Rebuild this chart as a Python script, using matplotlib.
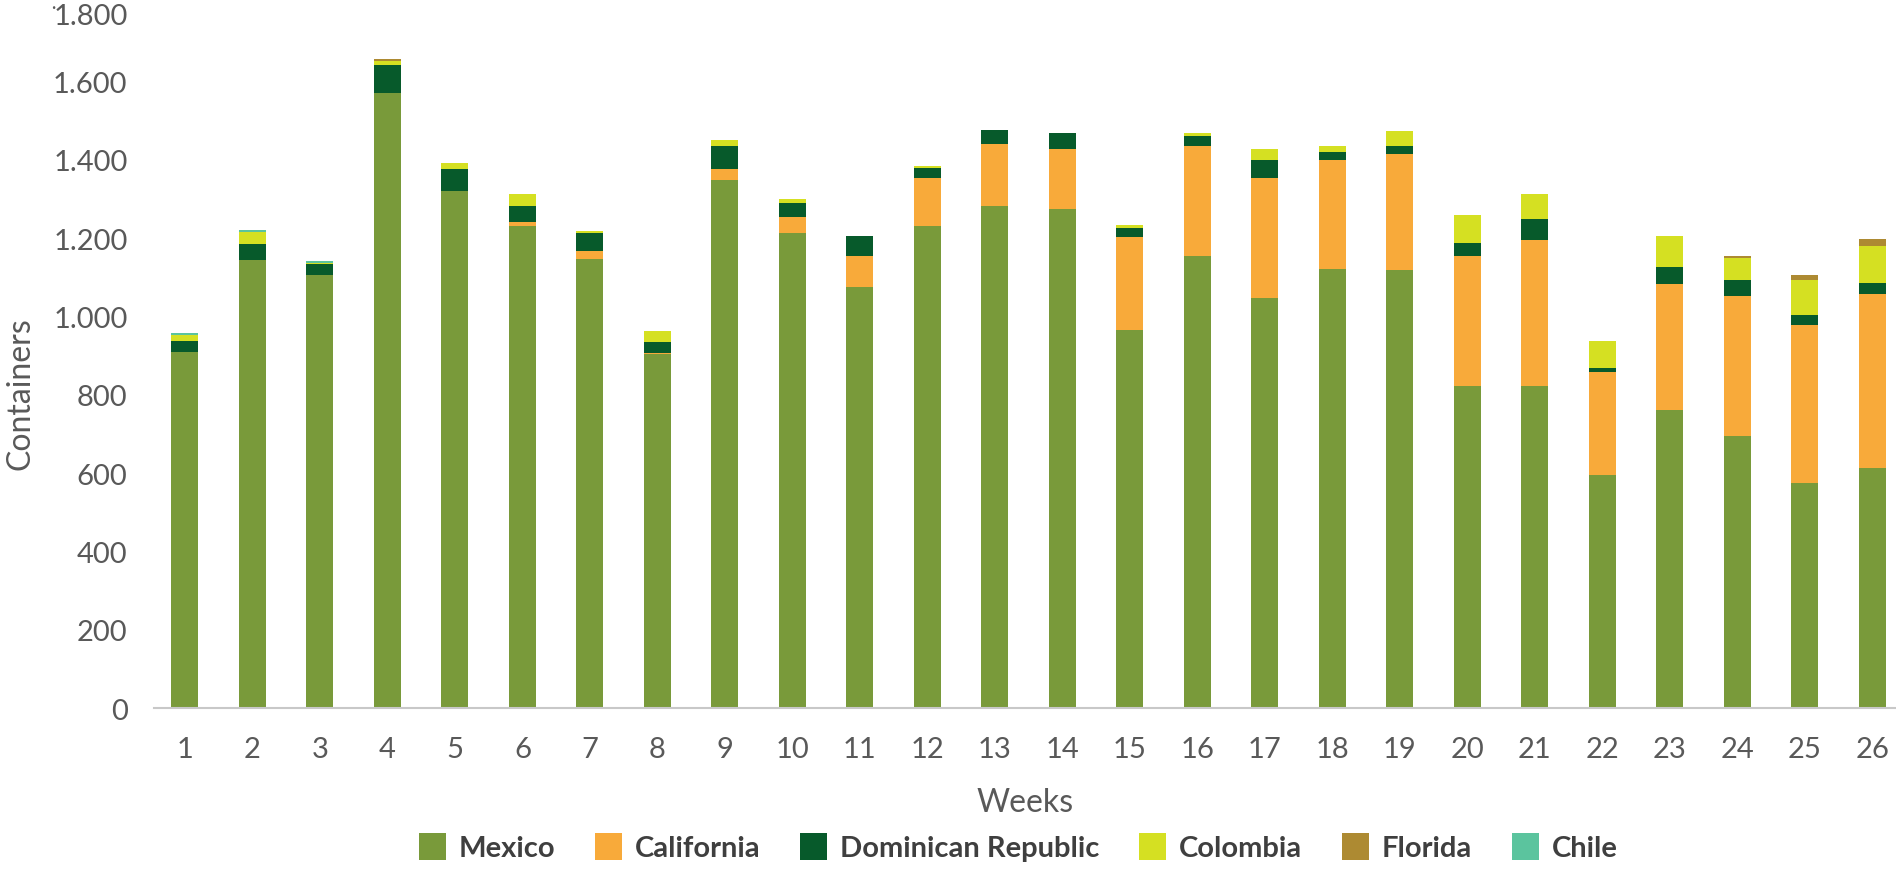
import numpy as np
import matplotlib.pyplot as plt
from matplotlib.patches import Patch

plt.rcParams['font.family'] = ['Lato', 'DejaVu Sans']

# weekly containers by origin
weeks = np.arange(1, 27)
mexico = [908, 1143, 1105, 1569, 1320, 1231, 1146, 903, 1349, 1213, 1074, 1231, 1282,
          1274, 964, 1154, 1046, 1120, 1118, 823, 823, 595, 762, 695, 574, 613]
california = [0, 0, 0, 0, 0, 10, 21, 3, 28, 41, 80, 123, 159,
              152, 239, 282, 308, 280, 297, 331, 372, 264, 320, 356, 405, 443]
dominican = [30, 42, 28, 72, 57, 41, 46, 28, 59, 36, 51, 26, 36,
             43, 23, 25, 46, 20, 21, 33, 54, 8, 44, 41, 24, 29]
colombia = [14, 30, 3, 10, 15, 31, 5, 28, 15, 10, 0, 5, 0,
            0, 7, 8, 26, 16, 38, 72, 64, 71, 79, 57, 89, 94]
florida = [0, 0, 0, 5, 0, 0, 0, 0, 0, 0, 0, 0, 0,
           0, 0, 0, 0, 0, 0, 0, 0, 0, 0, 5, 13, 18]
chile = [5, 5, 6, 0, 0, 0, 0, 0, 0, 0, 0, 0, 0,
         0, 0, 0, 0, 0, 0, 0, 0, 0, 0, 0, 0, 0]

series = [('Mexico', mexico, '#799A3A'),
          ('California', california, '#F8AA3A'),
          ('Dominican Republic', dominican, '#075A2B'),
          ('Colombia', colombia, '#D5E022'),
          ('Florida', florida, '#AD8A32'),
          ('Chile', chile, '#5BC49E')]

fig = plt.figure(figsize=(18.96, 8.70), dpi=100)
ax = fig.add_axes([0.0812, 0.185, 0.9188, 0.8104])

bottom = np.zeros(len(weeks))
for name, vals, col in series:
    vals = np.array(vals, dtype=float)
    ax.bar(weeks, vals, width=0.40, bottom=bottom, color=col, linewidth=0)
    bottom += vals

ax.set_xlim(0.541, 26.35)
ax.set_ylim(0, 1800)
ax.set_yticks(range(0, 1801, 200))
ax.set_yticklabels([f'{v:,}'.replace(',', '.') for v in range(0, 1801, 200)])
ax.set_xticks(weeks)

for s in ['top', 'right', 'left']:
    ax.spines[s].set_visible(False)
ax.spines['bottom'].set_color('#c8c8c8')
ax.spines['bottom'].set_linewidth(1.5)
ax.tick_params(axis='both', length=0, labelsize=21, labelcolor='#595959')
ax.tick_params(axis='x', pad=20)
ax.tick_params(axis='y', pad=19)
top_lbl = ax.get_yticklabels()[-1]
top_lbl.set_va('top')

ax.set_xlabel('Weeks', fontsize=23, color='#595959', labelpad=18)
ax.set_ylabel('Containers', fontsize=23, color='#595959')
ax.yaxis.set_label_coords(-0.068, 0.448)

fig.text(0.027, 0.985, '·', fontsize=12, color='#595959')

handles = [Patch(facecolor=col, edgecolor='none') for _, _, col in series]
labels = [name for name, _, _ in series]
leg = fig.legend(handles, labels, loc='center', bbox_to_anchor=(0.537, 0.025), ncol=6,
                 frameon=False, fontsize=21, handlelength=0.91, handleheight=1.04,
                 handletextpad=0.44, columnspacing=1.38)
for t in leg.get_texts():
    t.set_color('#3f3f3f')
    t.set_fontweight('bold')

fig.savefig('out.png', dpi=100)
